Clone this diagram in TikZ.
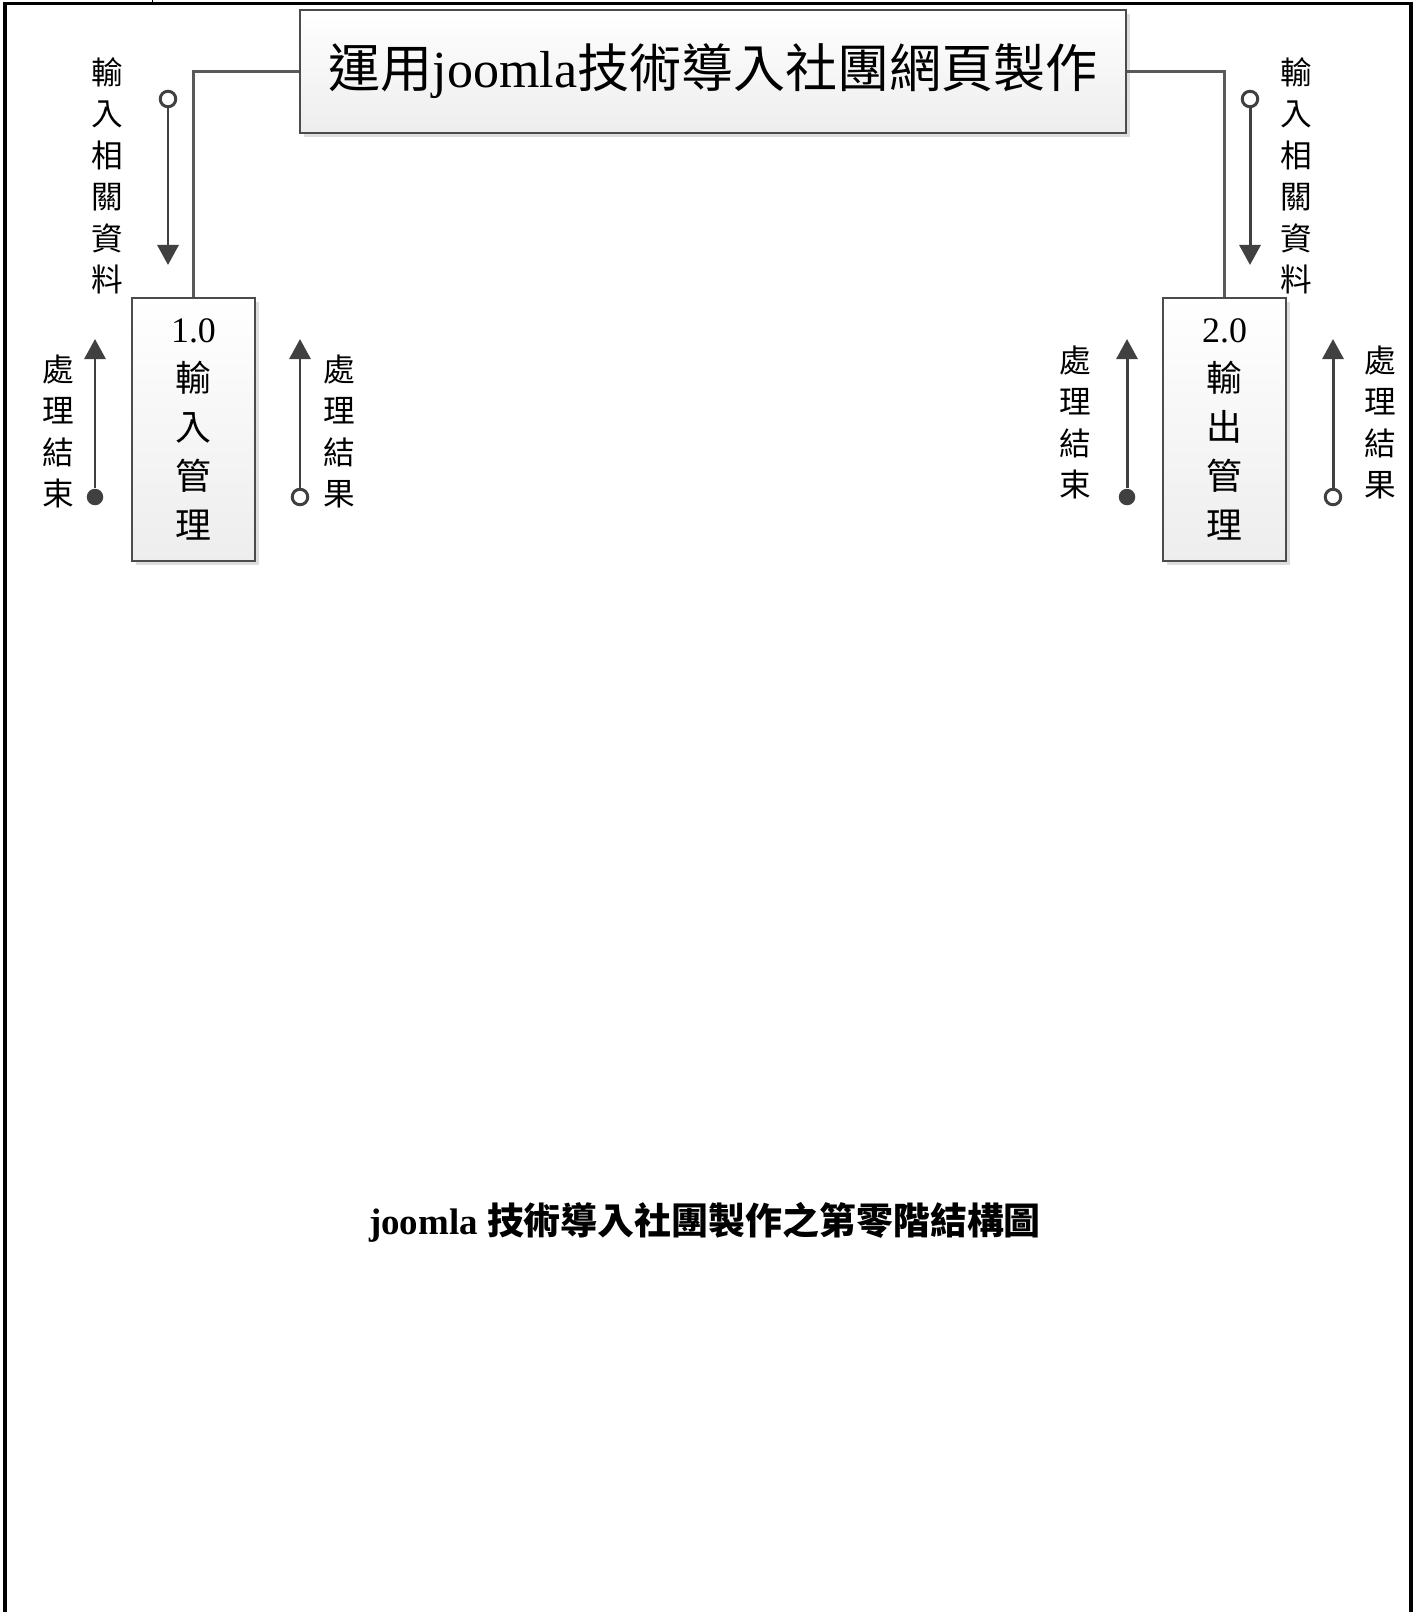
\documentclass[tikz,border=0pt]{standalone}
\usepackage{fontspec}
\setmainfont{Liberation Serif}
\newfontfamily\cjk{Noto Sans CJK TC}
\usetikzlibrary{arrows.meta,shadows}

\begin{document}
\begin{tikzpicture}[x=0.01cm,y=-0.01cm,
  proc/.style={draw=black!70,line width=0.45pt,top color=white,bottom color=black!7,
    drop shadow={shadow xshift=0.04cm,shadow yshift=-0.04cm,fill=black!13,opacity=1},
    inner sep=0pt,align=center},
  conn/.style={draw=black!65,line width=0.75pt},
  flow/.style={draw=black!75,line width=0.85pt,-{Triangle[length=0.2cm,width=0.21cm]}},
  opendot/.style={circle,draw=black!75,line width=0.85pt,fill=white,minimum size=0.155cm,inner sep=0pt},
  fulldot/.style={circle,fill=black!75,minimum size=0.165cm,inner sep=0pt},
  vlabel/.style={align=center,inner sep=0pt,font=\cjk\fontsize{9}{11.8}\selectfont}]
\useasboundingbox (0,0) rectangle (1420,1612);
% page frame
\draw[line width=1.1pt] (5,1612) -- (5,3.5) -- (1411,3.5) -- (1411,1612);
\draw[line width=0.3pt] (152.5,0) -- (152.5,3.5);

% processes
\node[proc,minimum width=8.26cm,minimum height=1.23cm,font=\fontsize{14.8}{16}\selectfont]
  (title) at (713,71.5) {{\cjk 運用}joomla{\cjk 技術導入社團網頁製作}};
\node[proc,minimum width=1.23cm,minimum height=2.63cm,font=\fontsize{10.2}{13.9}\selectfont]
  (input) at (193.5,429.5) {1.0\\{\cjk 輸}\\{\cjk 入}\\{\cjk 管}\\{\cjk 理}};
\node[proc,minimum width=1.23cm,minimum height=2.63cm,font=\fontsize{10.2}{13.9}\selectfont]
  (output) at (1224.5,429.5) {2.0\\{\cjk 輸}\\{\cjk 出}\\{\cjk 管}\\{\cjk 理}};
\draw[conn] (title.west) -| (input.north);
\draw[conn] (title.east) -| (output.north);

% data in
\foreach \n/\x in {inA/168,inB/1250} {
  \node[opendot] (\n) at (\x,99) {};
  \coordinate (\n tip) at (\x,265);
  \draw[flow] (\n) -- (\n tip);
}
\node[vlabel] (inAtxt) at (107,176) {輸\\入\\相\\關\\資\\料};
\node[vlabel] (inBtxt) at (1296,176) {輸\\入\\相\\關\\資\\料};

% results
\foreach \n/\x/\d in {endA/95/fulldot,resA/300/opendot,endB/1127/fulldot,resB/1333/opendot} {
  \node[\d] (\n) at (\x,497) {};
  \coordinate (\n tip) at (\x,339);
  \draw[flow] (\n) -- (\n tip);
}
\node[vlabel] (endAtxt) at (58,431.5) {處\\理\\結\\束};
\node[vlabel] (resAtxt) at (339,431.5) {處\\理\\結\\果};
\node[vlabel] (endBtxt) at (1075,422.5) {處\\理\\結\\束};
\node[vlabel] (resBtxt) at (1380,422.5) {處\\理\\結\\果};

% caption
\node[font=\bfseries\fontsize{10.5}{12}\selectfont] (caption) at (705,1222)
  {joomla {\cjk 技術導入社團製作之第零階結構圖}};
\end{tikzpicture}
\end{document}
